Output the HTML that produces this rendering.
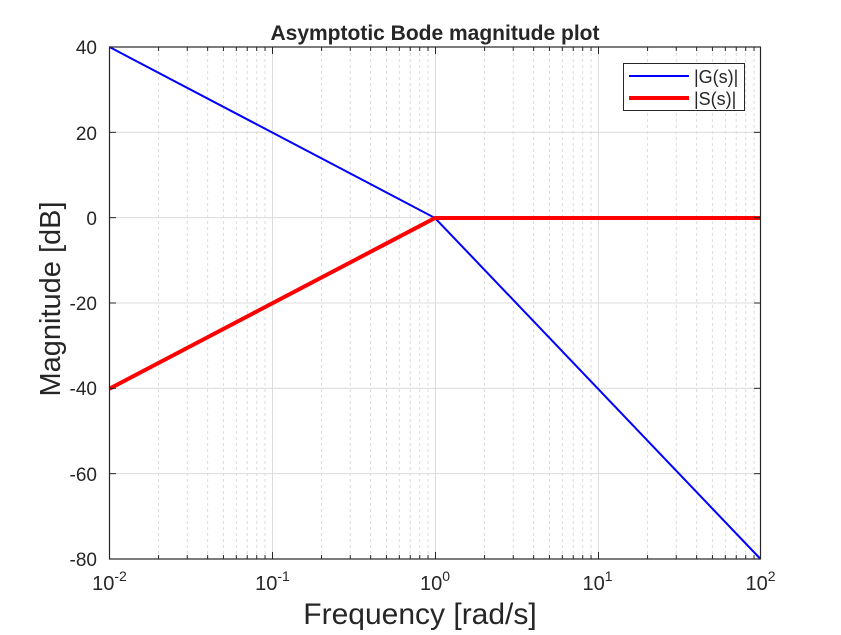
<!DOCTYPE html>
<html><head><meta charset="utf-8"><style>
html,body{margin:0;padding:0;background:#fff;}
text{font-family:"Liberation Sans",Arial,sans-serif;fill:#262626;}
</style></head><body>
<svg id="s" width="841" height="630" viewBox="0 0 841 630" xmlns="http://www.w3.org/2000/svg">
<rect width="841" height="630" fill="#fff"/>
<g id="grid"></g>
<polyline points="109.5,47 435,218 760.5,559" fill="none" stroke="#0000ff" stroke-width="2"/>
<polyline points="109.5,388.7 435,218 760.5,218" fill="none" stroke="#ff0000" stroke-width="4"/>
<rect x="109.5" y="47" width="651" height="512" fill="none" stroke="#262626" stroke-width="1.2"/>
<g id="ticks"></g>
<text x="435" y="40" font-size="21" font-weight="bold" text-anchor="middle" fill="#000">Asymptotic Bode magnitude plot</text>
<g font-size="19" text-anchor="end">
<text x="97" y="54">40</text><text x="97" y="140">20</text><text x="97" y="225">0</text>
<text x="97" y="310">-20</text><text x="97" y="395">-40</text><text x="97" y="481">-60</text><text x="97" y="566">-80</text>
</g>
<g font-size="20" text-anchor="middle">
<text x="109.5" y="590">10<tspan font-size="14" dy="-9">-2</tspan></text>
<text x="272.5" y="590">10<tspan font-size="14" dy="-9">-1</tspan></text>
<text x="435" y="590">10<tspan font-size="14" dy="-9">0</tspan></text>
<text x="597.5" y="590">10<tspan font-size="14" dy="-9">1</tspan></text>
<text x="760.5" y="590">10<tspan font-size="14" dy="-9">2</tspan></text>
</g>
<text x="420" y="624" font-size="30" text-anchor="middle">Frequency [rad/s]</text>
<text transform="translate(60,299) rotate(-90)" font-size="29" text-anchor="middle">Magnitude [dB]</text>
<rect x="623.5" y="63.5" width="121" height="47" fill="#fff" stroke="#262626" stroke-width="1"/>
<line x1="629" y1="76" x2="689" y2="76" stroke="#0000ff" stroke-width="2"/>
<line x1="629" y1="98" x2="689" y2="98" stroke="#ff0000" stroke-width="4"/>
<text x="694" y="83" font-size="18">|G(s)|</text>
<text x="694" y="105" font-size="18">|S(s)|</text>
</svg>
<script>
var g=document.getElementById('grid'),t=document.getElementById('ticks'),h='';
var tk='';
for(var d=0;d<4;d++){for(var k=1;k<=9;k++){var x=109.5+163*(d+Math.log10(k));
if(k==1){if(d>0){h+='<line x1="'+x+'" y1="47" x2="'+x+'" y2="559" stroke="#dcdcdc" stroke-width="1"/>';}}
else h+='<line x1="'+x+'" y1="47" x2="'+x+'" y2="559" stroke="#dcdcdc" stroke-width="1" stroke-dasharray="3,3"/>';
tk+='<line x1="'+x+'" y1="559" x2="'+x+'" y2="'+(k==1?552:555)+'" stroke="#262626"/><line x1="'+x+'" y1="47" x2="'+x+'" y2="'+(k==1?54:51)+'" stroke="#262626"/>';}}
for(var i=1;i<6;i++){var y=47+i*512/6;h+='<line x1="109.5" y1="'+y+'" x2="760.5" y2="'+y+'" stroke="#dcdcdc" stroke-width="1"/>';
tk+='<line x1="109.5" y1="'+y+'" x2="116" y2="'+y+'" stroke="#262626"/><line x1="760.5" y1="'+y+'" x2="754" y2="'+y+'" stroke="#262626"/>';}
g.innerHTML=h;t.innerHTML=tk;
</script>
</body></html>
